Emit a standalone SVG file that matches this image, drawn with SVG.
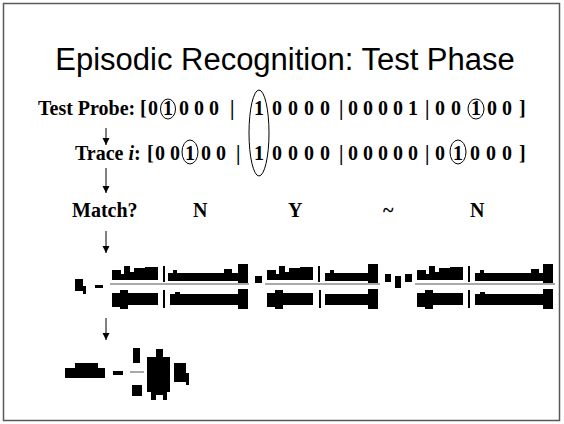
<svg xmlns="http://www.w3.org/2000/svg" width="564" height="424" viewBox="0 0 564 424">
<style>
.t{font-family:"Liberation Serif","Times New Roman",serif;font-weight:bold;font-size:20px;fill:#000}
.ttl{font-family:"Liberation Sans",Arial,sans-serif;font-size:31px;fill:#000}
.ell{fill:none;stroke:#000;stroke-width:1}
.conn{stroke:#000;stroke-width:1;fill:none}
.blk{fill:#000}
.fl{stroke:#555;stroke-width:1.2}
</style>
<defs>
<marker id="ah" markerUnits="userSpaceOnUse" markerWidth="8" markerHeight="8" refX="7" refY="3.5" orient="auto" viewBox="0 0 8 8">
<path d="M0,0 L7,3.5 L0,7 z" fill="#000"/>
</marker>
<g id="g1">
<rect x="0" y="-12" width="9" height="10"/>
<rect x="9" y="-8" width="3" height="6"/>
<rect x="12" y="-16" width="6" height="14"/>
<rect x="18" y="-10" width="4" height="8"/>
<rect x="22" y="-14" width="11" height="12"/>
<rect x="33" y="-15" width="13" height="13"/>
</g>
<g id="d1">
<rect x="0" y="9" width="8" height="14"/>
<rect x="8" y="6" width="8" height="19"/>
<rect x="16" y="9" width="30" height="12"/>
</g>
</defs>
<rect x="3.5" y="3.5" width="556" height="417" fill="#fff" stroke="#595959" stroke-width="1.5"/>
<g id="title"><text class="ttl" x="285" y="70" text-anchor="middle">Episodic Recognition: Test Phase</text></g>
<g id="probe">
<text class="t" x="38" y="115">Test Probe:</text>
<text class="t" y="115" x="140 148 158 163 173 179 189 194 204 209 219 230 234 254 264 272 282 288 298 304 314 320 330 339 343 348 358 363 373 378 388 393 403 408 418 425 429 435 445 451 461 471 481 487 497 502 519">[0 1 0 0 0 | 1 0 0 0 0 | 0 0 0 0 1 | 0 0 1 0 0]</text>
<ellipse class="ell" cx="168" cy="109" rx="7.5" ry="10"/>
<ellipse class="ell" cx="476" cy="109" rx="8" ry="10"/>
</g>
<g id="trace">
<text class="t" x="75" y="160">Trace <tspan font-style="italic">i</tspan>:</text>
<text class="t" y="160" x="147 155 165 170 180 185 195 201 211 216 226 236 240 254 264 272 282 288 298 304 314 320 330 339 343 348 358 363 373 378 388 393 403 408 418 425 429 435 445 453 463 470 480 486 496 502 519">[0 0 1 0 0 | 1 0 0 0 0 | 0 0 0 0 0 | 0 1 0 0 0]</text>
<ellipse class="ell" cx="190" cy="152" rx="8" ry="12"/>
<ellipse class="ell" cx="458" cy="152" rx="8" ry="12"/>
<ellipse class="ell" cx="259" cy="133" rx="10" ry="43"/>
</g>
<g id="match">
<text class="t" x="72" y="217">Match?</text>
<text class="t" x="193" y="217">N</text>
<text class="t" x="288" y="217">Y</text>
<text class="t" x="383" y="217" font-weight="normal">~</text>
<text class="t" x="470" y="217">N</text>
</g>
<g id="equation" class="blk">
<rect x="75" y="279" width="8" height="12"/>
<rect x="83" y="286" width="3" height="8"/>
<rect x="95" y="285" width="8" height="3"/>
<line class="fl" x1="110" y1="284" x2="249" y2="284"/>
<use href="#g1" x="112" y="282"/>
<rect x="163" y="266" width="2" height="16"/>
<rect x="168" y="273" width="72" height="8"/>
<rect x="173" y="270" width="4" height="3"/>
<rect x="224" y="269" width="8" height="4"/>
<rect x="238" y="264" width="10" height="19"/>
<use href="#d1" x="112" y="284"/>
<rect x="163" y="290" width="2" height="18"/>
<rect x="170" y="294" width="70" height="11"/>
<rect x="175" y="292" width="5" height="2"/>
<rect x="238" y="289" width="10" height="20"/>
<rect x="255" y="276" width="7" height="7"/>
<line class="fl" x1="265" y1="284" x2="380" y2="284"/>
<use href="#g1" x="267" y="282"/>
<rect x="318" y="266" width="2" height="16"/>
<rect x="325" y="273" width="45" height="8"/>
<rect x="330" y="270" width="4" height="3"/>
<rect x="368" y="264" width="10" height="19"/>
<use href="#d1" x="267" y="284"/>
<rect x="319" y="290" width="2" height="18"/>
<rect x="325" y="294" width="45" height="11"/>
<rect x="368" y="289" width="10" height="20"/>
<rect x="385" y="274" width="6" height="8"/>
<rect x="395" y="276" width="6" height="12"/>
<rect x="405" y="274" width="7" height="8"/>
<line class="fl" x1="415" y1="284" x2="555" y2="284"/>
<use href="#g1" x="417" y="282"/>
<rect x="468" y="266" width="2" height="16"/>
<rect x="475" y="273" width="70" height="8"/>
<rect x="480" y="270" width="4" height="3"/>
<rect x="531" y="269" width="8" height="4"/>
<rect x="543" y="264" width="10" height="19"/>
<use href="#d1" x="417" y="284"/>
<rect x="468" y="290" width="2" height="18"/>
<rect x="475" y="294" width="70" height="11"/>
<rect x="480" y="292" width="5" height="2"/>
<rect x="543" y="289" width="10" height="20"/>
</g>
<g id="result" class="blk">
<rect x="65" y="368" width="40" height="10"/>
<rect x="75" y="363" width="23" height="5"/>
<rect x="113" y="371" width="10" height="4"/>
<rect x="133" y="348" width="7" height="15"/>
<line x1="130" y1="372" x2="144" y2="372" stroke="#555" stroke-width="1"/>
<rect x="132" y="385" width="10" height="11"/>
<rect x="147" y="357" width="23" height="35"/>
<rect x="156" y="349" width="7" height="8"/>
<path d="M151,392 H167 V400 H163 V395 H156 V400 H151 z"/>
<rect x="174" y="363" width="12" height="19"/>
<rect x="186" y="373" width="3" height="12"/>
</g>
<g id="connectors" class="conn">
<line x1="106" y1="128" x2="106" y2="145" marker-end="url(#ah)"/>
<line x1="106" y1="168" x2="106" y2="193" marker-end="url(#ah)"/>
<line x1="106" y1="231" x2="106" y2="253" marker-end="url(#ah)"/>
<line x1="106" y1="318" x2="106" y2="340" marker-end="url(#ah)"/>
</g>
</svg>
